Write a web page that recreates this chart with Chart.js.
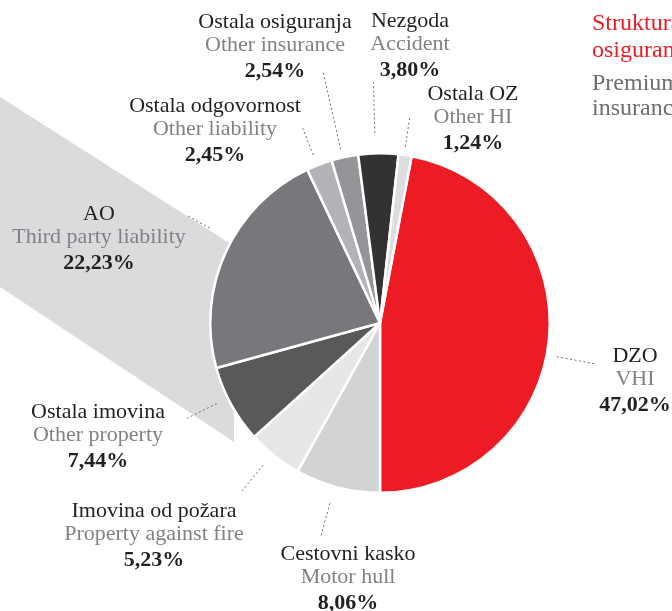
<!DOCTYPE html>
<html><head><meta charset="utf-8">
<script src="https://cdn.jsdelivr.net/npm/chart.js@4/dist/chart.umd.min.js"></script>
<style>html,body{margin:0;padding:0;background:#fff;overflow:hidden}#wrap{width:672px;height:611px;position:relative}</style>
</head><body><div id="wrap"><canvas id="c" width="672" height="611"></canvas></div>
<script>
// ---- data ----
const categoriesHr = ['DZO','Cestovni kasko','Imovina od požara','Ostala imovina','AO','Ostala odgovornost','Ostala osiguranja','Nezgoda','Ostala OZ'];
const categoriesEn = ['VHI','Motor hull','Property against fire','Other property','Third party liability','Other liability','Other insurance','Accident','Other HI'];
const shares = [47.02, 8.06, 5.23, 7.44, 22.23, 2.45, 2.54, 3.80, 1.24];
const titleHr = ['Struktura premije neživotnih', 'osiguranja'];
const titleEn = ['Premium structure of non-life', 'insurance'];

// ---- styles / annotation layout ----
const sliceColors = ['#ED1C24','#D1D3D4','#E6E7E8','#58595B','#77787B','#B1B3B6','#939598','#333132','#DCDDDE'];
const labelLayout = [
  {x:635, y:362, rIn:180, rOut:219, dAng:5.4},
  {x:348, y:560, rIn:187, rOut:221, dAng:1},
  {x:154, y:517, rIn:184, rOut:219, dAng:1},
  {x:98,  y:418, rIn:182, rOut:215, dAng:2.5},
  {x:99,  y:220, rIn:195, rOut:222, dAng:4.5},
  {x:215, y:112, rIn:181, rOut:210, dAng:-0.7},
  {x:275, y:28,  rIn:178, rOut:257, dAng:-0.8},
  {x:410, y:27,  rIn:190, rOut:241, dAng:-1},
  {x:473, y:100, rIn:178, rOut:208, dAng:-0.3}
];
const FONT = '"Liberation Serif", "Times New Roman", serif';

const fmtPct = v => v.toFixed(2).replace('.', ',') + '%';
const total = shares.reduce((a,b)=>a+b,0);

const decor = {
  id: 'decor',
  beforeDatasetsDraw(chart) {
    const ctx = chart.ctx;
    const a = chart.getDatasetMeta(0).data[0];
    const cx = a.x, cy = a.y;
    ctx.save();
    ctx.fillStyle = '#DADBDC';
    ctx.beginPath();
    ctx.moveTo(0, cy - 226);
    ctx.lineTo(cx - 146, cy - 77);
    ctx.lineTo(cx - 146, cy + 119);
    ctx.lineTo(0, cy - 36);
    ctx.closePath();
    ctx.fill();
    ctx.restore();
  },
  afterDatasetsDraw(chart) {
    const ctx = chart.ctx;
    const meta = chart.getDatasetMeta(0);
    ctx.save();
    meta.data.forEach((a, i) => {
      const L = labelLayout[i];
      const mid = (a.startAngle + a.endAngle) / 2 + L.dAng * Math.PI / 180;
      ctx.strokeStyle = '#6D6E71';
      ctx.lineWidth = 1;
      ctx.setLineDash([2, 2.5]);
      ctx.beginPath();
      ctx.moveTo(a.x + Math.cos(mid) * L.rIn, a.y + Math.sin(mid) * L.rIn);
      ctx.lineTo(a.x + Math.cos(mid) * L.rOut, a.y + Math.sin(mid) * L.rOut);
      ctx.stroke();
      ctx.setLineDash([]);
      ctx.textAlign = 'center';
      ctx.textBaseline = 'alphabetic';
      ctx.font = '22px ' + FONT;
      ctx.fillStyle = '#231F20';
      ctx.fillText(categoriesHr[i], L.x, L.y);
      ctx.fillStyle = '#808285';
      ctx.fillText(categoriesEn[i], L.x, L.y + 23);
      ctx.font = 'bold 22px ' + FONT;
      ctx.fillStyle = '#231F20';
      ctx.fillText(fmtPct(shares[i]), L.x, L.y + 49);
    });
    // title (top right)
    ctx.textAlign = 'left';
    ctx.font = '24px ' + FONT;
    ctx.fillStyle = '#ED1C24';
    ctx.fillText(titleHr[0], 592, 30);
    ctx.fillText(titleHr[1], 592, 57);
    ctx.fillStyle = '#6D6E71';
    ctx.fillText(titleEn[0], 592, 90);
    ctx.fillText(titleEn[1], 592, 115);
    ctx.restore();
  }
};

new Chart(document.getElementById('c'), {
  type: 'pie',
  data: {
    labels: categoriesHr,
    datasets: [{
      data: shares,
      backgroundColor: sliceColors,
      borderColor: '#FFFFFF',
      borderWidth: 2.5
    }]
  },
  options: {
    responsive: false,
    animation: false,
    rotation: 180 - shares[0] / total * 360,
    layout: { padding: { left: 209, right: 121, top: 152, bottom: 117 } },
    plugins: { legend: { display: false }, tooltip: { enabled: false }, title: { display: false } }
  },
  plugins: [decor]
});
</script>
</body></html>
